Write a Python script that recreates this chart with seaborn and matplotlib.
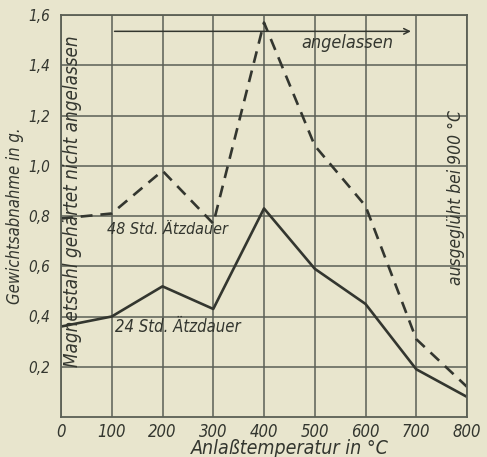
import matplotlib
matplotlib.use("Agg")
import matplotlib.pyplot as plt
import seaborn as sns
import pandas as pd

# Data
temps = [0, 100, 200, 300, 400, 500, 600, 700, 800]
loss_48h = [0.79, 0.81, 0.98, 0.77, 1.57, 1.08, 0.84, 0.31, 0.12]
loss_24h = [0.36, 0.40, 0.52, 0.43, 0.83, 0.59, 0.45, 0.19, 0.08]
x_ticks = [0, 100, 200, 300, 400, 500, 600, 700, 800]
y_ticks = [0.2, 0.4, 0.6, 0.8, 1.0, 1.2, 1.4, 1.6]
y_tick_labels = ["0,2", "0,4", "0,6", "0,8", "1,0", "1,2", "1,4", "1,6"]

bg = "#e8e5cd"
ink = "#33362f"
grid_c = "#5b5f55"

sns.set_style("white", {"axes.facecolor": bg, "figure.facecolor": bg})
plt.rcParams['font.family'] = ['DejaVu Sans']
plt.rcParams['font.style'] = 'italic'
plt.rcParams['font.stretch'] = 'condensed'

df = pd.DataFrame({
    "temp": temps * 2,
    "loss": loss_48h + loss_24h,
    "series": ["48"] * len(temps) + ["24"] * len(temps),
})

fig = plt.figure(figsize=(4.87, 4.57), dpi=100)
ax = fig.add_axes([61/487, 1-417/457, 406/487, 402/457])

sns.lineplot(data=df[df.series == "48"], x="temp", y="loss", ax=ax,
             color=ink, lw=1.9, legend=False)
sns.lineplot(data=df[df.series == "24"], x="temp", y="loss", ax=ax,
             color=ink, lw=1.9, legend=False)
ax.lines[0].set_dashes([4.5, 3])

ax.set_xlim(0, 800)
ax.set_ylim(0, 1.6)
ax.set_xticks(x_ticks)
ax.set_xticklabels([str(t) for t in x_ticks], fontsize=12, color=ink)
ax.set_yticks(y_ticks)
ax.set_yticklabels(y_tick_labels, fontsize=11, color=ink)
ax.tick_params(axis="x", length=0, pad=4)
ax.tick_params(axis="y", length=0, pad=8)
ax.grid(True, color=grid_c, lw=1.1)
for s in ax.spines.values():
    s.set_color(grid_c)
    s.set_linewidth(1.3)

ax.set_xlabel("Anlaßtemperatur in °C", fontsize=14, color=ink)
ax.xaxis.set_label_coords((290 - 61) / 406, -0.055)
ax.set_ylabel("Gewichtsabnahme in g.", fontsize=12, color=ink)
ax.yaxis.set_label_coords(-(61 - 24) / 406, 0.5)

ax.text(209, 0.745, "48 Std. Ätzdauer", fontsize=11.5, color=ink,
        ha="center", va="center")
ax.text(230, 0.36, "24 Std. Ätzdauer", fontsize=12, color=ink,
        ha="center", va="center")
ax.text(564, 1.49, "angelassen", fontsize=13, color=ink,
        ha="center", va="center")
ax.annotate("", xy=(695, 1.535), xytext=(100, 1.535),
            arrowprops=dict(arrowstyle="->", color=ink, lw=1.1))
ax.text(22, 0.86, "Magnetstahl gehärtet nicht angelassen", fontsize=13.5,
        color=ink, rotation=90, ha="center", va="center")
ax.text(778, 0.875, "ausgeglüht bei 900 °C", fontsize=12.5, color=ink,
        rotation=90, ha="center", va="center")

fig.savefig("out.png", dpi=100, facecolor=bg)
